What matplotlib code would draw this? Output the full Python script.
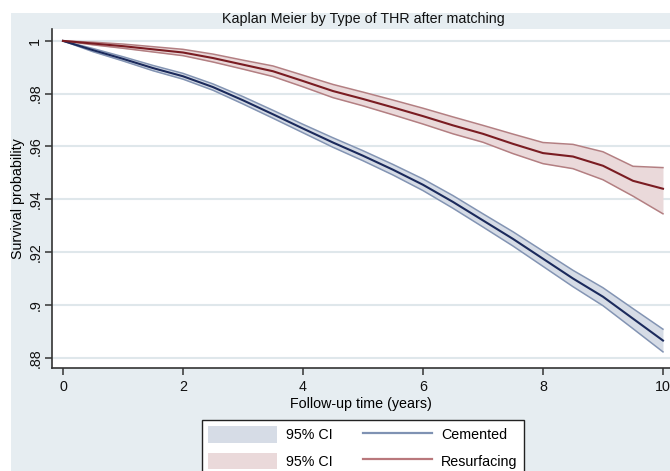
"""Kaplan Meier per tipo di THR dopo il matching, stile Stata s2color."""
import matplotlib
matplotlib.use("Agg")
import matplotlib.pyplot as plt
from matplotlib.patches import Patch, Rectangle
from matplotlib.lines import Line2D

plt.rcParams["font.family"] = ["Liberation Sans", "DejaVu Sans"]

# anni di follow-up
years = [0, 0.5, 1, 1.5, 2, 2.5, 3, 3.5, 4, 4.5, 5, 5.5, 6, 6.5, 7, 7.5, 8, 8.5, 9, 9.5, 10]

cemented = [1.0, .9965, .9932, .9897, .9866, .9825, .9775, .9722, .9668, .9615, .9565,
            .9512, .9455, .9390, .9320, .9250, .9175, .9100, .9031, .8948, .8865]
cemented_hi = [1.0, .9971, .9940, .9907, .9877, .9837, .9789, .9737, .9684, .9633, .9584,
               .9532, .9477, .9414, .9345, .9277, .9204, .9131, .9065, .8986, .8908]
cemented_lo = [1.0, .9959, .9924, .9887, .9855, .9813, .9761, .9707, .9652, .9597, .9546,
               .9492, .9433, .9366, .9295, .9223, .9146, .9069, .8997, .8910, .8822]

resurfacing = [1.0, .9990, .9980, .9968, .9956, .9935, .9910, .9885, .9848, .9810, .9780,
               .9748, .9715, .9680, .9648, .9610, .9575, .9562, .9527, .9470, .9440]
resurfacing_hi = [1.0, .9995, .9988, .9978, .9968, .9950, .9927, .9905, .9870, .9835, .9806,
                  .9776, .9745, .9712, .9680, .9647, .9615, .9608, .9580, .9525, .9520]
resurfacing_lo = [1.0, .9985, .9972, .9958, .9944, .9920, .9893, .9865, .9826, .9785, .9754,
                  .9720, .9685, .9648, .9616, .9573, .9535, .9516, .9474, .9412, .9345]

yticks = [.88, .9, .92, .94, .96, .98, 1]
ytick_labels = [".88", ".9", ".92", ".94", ".96", ".98", "1"]
xticks = [0, 2, 4, 6, 8, 10]

FS = 10.3
BG = "#e6edf1"
fig = plt.figure(figsize=(6.7, 4.71), dpi=100, facecolor="white")
fig.patches.append(Rectangle((11 / 670, 0), 1, 1 - 13 / 471, transform=fig.transFigure,
                             facecolor=BG, edgecolor="none", zorder=-5))

ax = fig.add_axes([52 / 670, 1 - 368 / 471, 1 - 52 / 670, (368 - 29) / 471])
ax.set_facecolor("white")

series = [
    ("Cemented", cemented, cemented_lo, cemented_hi, "#1b2a5c", "#d6dce6", "#8394b3"),
    ("Resurfacing", resurfacing, resurfacing_lo, resurfacing_hi, "#7a1c22", "#ead9da", "#b37f82"),
]
for name, s, lo, hi, col, fill, edge in series:
    ax.fill_between(years, lo, hi, color=fill, lw=0, zorder=2)
    ax.plot(years, lo, color=edge, lw=1.1, zorder=3)
    ax.plot(years, hi, color=edge, lw=1.1, zorder=3)
    ax.plot(years, s, color=col, lw=1.5, zorder=4)

ax.set_xlim(-0.183, 10.117)
ax.set_ylim(0.8761, 1.0045)
ax.set_yticks(yticks)
ax.set_yticklabels(ytick_labels, rotation=90, va="center")
ax.set_xticks(xticks)
ax.yaxis.grid(True, color="#dfe7eb", lw=1.5, zorder=1)
ax.set_axisbelow(True)
for side in ["top", "right"]:
    ax.spines[side].set_visible(False)
for side in ["left", "bottom"]:
    ax.spines[side].set_color("#333333")
    ax.spines[side].set_linewidth(1.2)
ax.tick_params(axis="both", direction="out", length=5, width=1.1, color="#333333",
               labelsize=FS, labelcolor="#111111")
ax.tick_params(axis="y", pad=2)

ax.set_xlabel("Follow-up time (years)", fontsize=FS, labelpad=2)
ax.set_ylabel("Survival probability", fontsize=FS, labelpad=2)
fig.text(363 / 670, 1 - 19 / 471, "Kaplan Meier by Type of THR after matching",
         ha="center", va="center", fontsize=FS, color="#111111")

handles = [
    Patch(facecolor="#d6dce6", edgecolor="none"),
    Patch(facecolor="#ead9da", edgecolor="none"),
    Line2D([], [], color="#7f92b3", lw=1.6),
    Line2D([], [], color="#b9787c", lw=1.6),
]
labels = ["95% CI", "95% CI", "Cemented", "Resurfacing"]
leg = fig.legend(handles, labels, ncol=2, loc="upper center",
                 bbox_to_anchor=(363 / 670, 1 - 420 / 471), fontsize=FS,
                 frameon=True, fancybox=False, handlelength=4.8, handleheight=1.4,
                 labelspacing=0.7, columnspacing=2.1, handletextpad=0.65,
                 borderpad=0.45, borderaxespad=0)
leg.get_frame().set_edgecolor("#222222")
leg.get_frame().set_linewidth(1.0)
leg.get_frame().set_facecolor("white")
leg.get_frame().set_alpha(1)

fig.savefig("out.png", dpi=100, facecolor=fig.get_facecolor())
